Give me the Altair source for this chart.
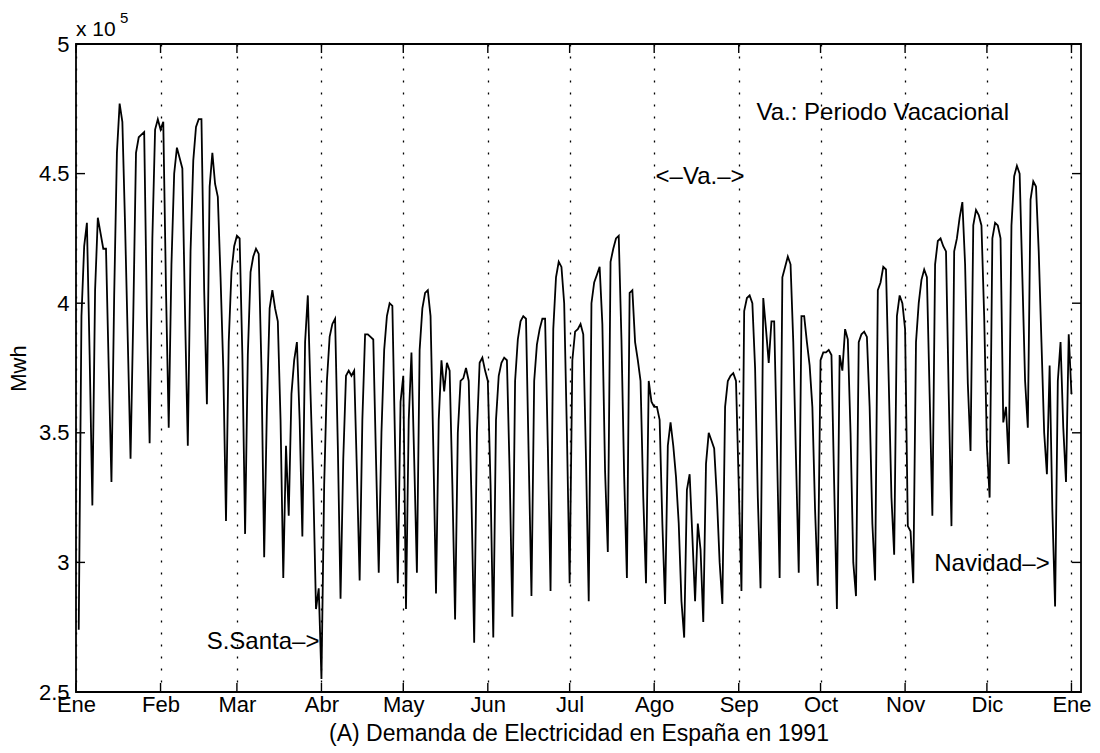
import altair as alt
import pandas as pd

# Daily electricity demand in Spain, 1991 (units of 1e5 Mwh)
ene = [2.74, 3.95, 4.22, 4.31, 3.80, 3.22, 4.05, 4.33, 4.27, 4.21, 4.21, 3.75, 3.31, 4.03, 4.58, 4.77,
       4.70, 4.30, 3.85, 3.40, 3.95, 4.58, 4.64, 4.65, 4.66, 3.95, 3.46, 4.25, 4.67, 4.71, 4.67]
feb = [4.70, 4.05, 3.52, 4.15, 4.50, 4.60, 4.56, 4.52, 3.95, 3.45, 4.20, 4.55, 4.68, 4.71, 4.71, 4.05,
       3.61, 4.45, 4.58, 4.46, 4.41, 4.10, 3.75, 3.16, 3.85, 4.12, 4.22, 4.26]
mar = [4.25, 3.80, 3.11, 3.80, 4.12, 4.18, 4.21, 4.19, 3.75, 3.02, 3.60, 3.98, 4.05, 3.98, 3.93, 3.55,
       2.94, 3.45, 3.18, 3.65, 3.78, 3.85, 3.55, 3.10, 3.85, 4.03, 3.65, 3.30, 2.82, 2.90, 2.55]
abr = [3.30, 3.70, 3.87, 3.92, 3.94, 3.45, 2.86, 3.40, 3.72, 3.74, 3.72, 3.74, 3.35, 2.93, 3.55, 3.88,
       3.88, 3.87, 3.86, 3.40, 2.96, 3.50, 3.82, 3.95, 4.00, 3.99, 3.45, 2.92, 3.62, 3.72]
may = [2.82, 3.55, 3.81, 3.40, 2.96, 3.82, 3.98, 4.04, 4.05, 3.95, 3.45, 2.88, 3.55, 3.78, 3.66, 3.77,
       3.74, 3.30, 2.78, 3.50, 3.70, 3.71, 3.75, 3.70, 3.25, 2.69, 3.50, 3.77, 3.79, 3.74, 3.70]
jun = [3.30, 2.71, 3.55, 3.72, 3.77, 3.79, 3.78, 3.35, 2.79, 3.70, 3.86, 3.93, 3.95, 3.94, 3.40, 2.87,
       3.70, 3.84, 3.90, 3.94, 3.94, 3.45, 2.89, 3.90, 4.10, 4.16, 4.14, 4.00, 3.50, 2.92]
jul = [3.78, 3.89, 3.90, 3.92, 3.88, 3.40, 2.85, 4.00, 4.08, 4.11, 4.14, 3.92, 3.35, 3.04, 4.16, 4.21,
       4.25, 4.26, 3.86, 3.33, 2.94, 4.04, 4.05, 3.85, 3.78, 3.70, 3.25, 2.92, 3.70, 3.62, 3.60]
ago = [3.60, 3.55, 3.15, 2.84, 3.45, 3.54, 3.45, 3.33, 3.15, 2.85, 2.71, 3.28, 3.34, 3.10, 2.85, 3.15,
       3.05, 2.77, 3.38, 3.50, 3.47, 3.44, 3.25, 3.00, 2.84, 3.60, 3.70, 3.72, 3.73, 3.70, 3.30]
sep = [2.89, 3.97, 4.02, 4.03, 4.00, 3.75, 3.25, 2.90, 4.02, 3.90, 3.77, 3.93, 3.93, 3.45, 2.94, 4.10,
       4.14, 4.18, 4.15, 3.85, 3.40, 2.96, 3.95, 3.95, 3.85, 3.76, 3.60, 3.20, 2.91, 3.78]
octu = [3.81, 3.81, 3.82, 3.80, 3.30, 2.82, 3.80, 3.74, 3.90, 3.86, 3.50, 3.00, 2.87, 3.85, 3.88, 3.89,
        3.87, 3.60, 3.15, 2.93, 4.05, 4.08, 4.14, 4.13, 3.70, 3.25, 3.03, 3.95, 4.03, 4.00, 3.90]
nov = [3.14, 3.12, 2.92, 3.85, 4.00, 4.09, 4.13, 4.10, 3.65, 3.18, 4.15, 4.24, 4.25, 4.22, 4.20, 3.65,
       3.14, 4.20, 4.25, 4.33, 4.39, 4.15, 3.69, 3.43, 4.30, 4.36, 4.34, 4.30, 3.95, 3.45]
dic = [3.25, 4.25, 4.31, 4.30, 4.25, 3.54, 3.60, 3.38, 4.30, 4.49, 4.53, 4.50, 4.10, 3.70, 3.52, 4.40,
       4.47, 4.45, 4.20, 3.85, 3.50, 3.34, 3.76, 3.20, 2.83, 3.70, 3.85, 3.52, 3.31, 3.88, 3.65]

meses = ["Ene", "Feb", "Mar", "Abr", "May", "Jun", "Jul", "Ago", "Sep", "Oct", "Nov", "Dic", "Ene"]
mes_ticks = [0, 31, 59, 90, 120, 151, 181, 212, 243, 273, 304, 334, 365]
y_ticks = [2.5, 3.0, 3.5, 4.0, 4.5, 5.0]

notas = ["Va.: Periodo Vacacional", "<\u2013Va.\u2013>", "S.Santa\u2013>", "Navidad\u2013>"]
notas_x = [249.5, 212.5, 47.9, 314.7]
notas_y = [4.707, 4.46, 2.666, 2.967]

serie = ene + feb + mar + abr + may + jun + jul + ago + sep + octu + nov + dic
df = pd.DataFrame({"dia": list(range(1, len(serie) + 1)), "mwh": serie})

W, H = 1005, 648
FONT = "Liberation Sans"

x_scale = alt.Scale(domain=[0, 368.5], nice=False, zero=False)
y_scale = alt.Scale(domain=[2.5, 5.0], nice=False, zero=False)

label_expr = ("[" + ",".join(f"'{m}'" for m in meses) + "][indexof(["
              + ",".join(str(t) for t in mes_ticks) + "], datum.value)]")

x_axis = alt.Axis(
    values=mes_ticks, labelExpr=label_expr, grid=True, gridDash=[2, 10], gridColor="black",
    gridOpacity=1, gridWidth=1.3, ticks=False, tickSize=0, domain=False,
    labelFont=FONT, labelFontSize=22, labelColor="black", labelFlush=False, labelOverlap=False,
    labelBaseline="alphabetic", labelPadding=19,
    title="(A) Demanda de Electricidad en España en 1991", titleFont=FONT, titleFontSize=23,
    titleFontWeight="normal", titleColor="black", titleBaseline="alphabetic", titleY=48, titleX=W / 2,
)
y_axis = alt.Axis(
    values=y_ticks, format=".1~f", grid=False, ticks=False, tickSize=0, domain=False,
    labelFont=FONT, labelFontSize=22, labelColor="black", labelPadding=7,
    title="Mwh", titleFont=FONT, titleFontSize=22, titleFontWeight="normal", titleColor="black",
    titleX=-51, titleY=H / 2, titleBaseline="alphabetic", titleAlign="center",
)

X = alt.X("dia:Q", scale=x_scale, axis=x_axis)
Y = alt.Y("mwh:Q", scale=y_scale, axis=y_axis)

line = alt.Chart(df).mark_line(color="black", strokeWidth=1.8).encode(x=X, y=Y)

yt = pd.DataFrame({"mwh": y_ticks})
mt = pd.DataFrame({"dia": mes_ticks})
tick_style = dict(color="black", strokeWidth=1.4)
ytick_l = alt.Chart(yt).mark_rule(**tick_style).encode(y=Y, x=alt.value(0), x2=alt.value(9))
ytick_r = alt.Chart(yt).mark_rule(**tick_style).encode(y=Y, x=alt.value(W), x2=alt.value(W - 9))
xtick_b = alt.Chart(mt).mark_rule(**tick_style).encode(x=X, y=alt.value(H), y2=alt.value(H - 9))
xtick_t = alt.Chart(mt).mark_rule(**tick_style).encode(x=X, y=alt.value(0), y2=alt.value(9))

ann_df = pd.DataFrame({"dia": notas_x, "mwh": notas_y, "t": notas})
ann = alt.Chart(ann_df).mark_text(font=FONT, fontSize=24, align="left", baseline="alphabetic",
                                  color="black").encode(x=X, y=Y, text="t:N")

x10 = alt.Chart(pd.DataFrame({"dia": [0.0], "mwh": [5.031], "t": ["x 10"]})).mark_text(
    font=FONT, fontSize=21, align="left", baseline="alphabetic", color="black").encode(
    x=X, y=Y, text="t:N")
sup = alt.Chart(pd.DataFrame({"dia": [16.1], "mwh": [5.08], "t": ["5"]})).mark_text(
    font=FONT, fontSize=15, align="left", baseline="alphabetic", color="black").encode(
    x=X, y=Y, text="t:N")

chart = alt.layer(line, ytick_l, ytick_r, xtick_b, xtick_t, ann, x10, sup).properties(
    width=W, height=H,
    padding={"left": 76, "top": 44, "right": 1100 - 76 - W, "bottom": 753 - 44 - H},
    autosize=alt.AutoSizeParams(type="none"),
    background="white",
).configure(font=FONT).configure_view(stroke="black", strokeWidth=1.8)

chart.save("out.html", embed_options={"renderer": "svg", "actions": False})
